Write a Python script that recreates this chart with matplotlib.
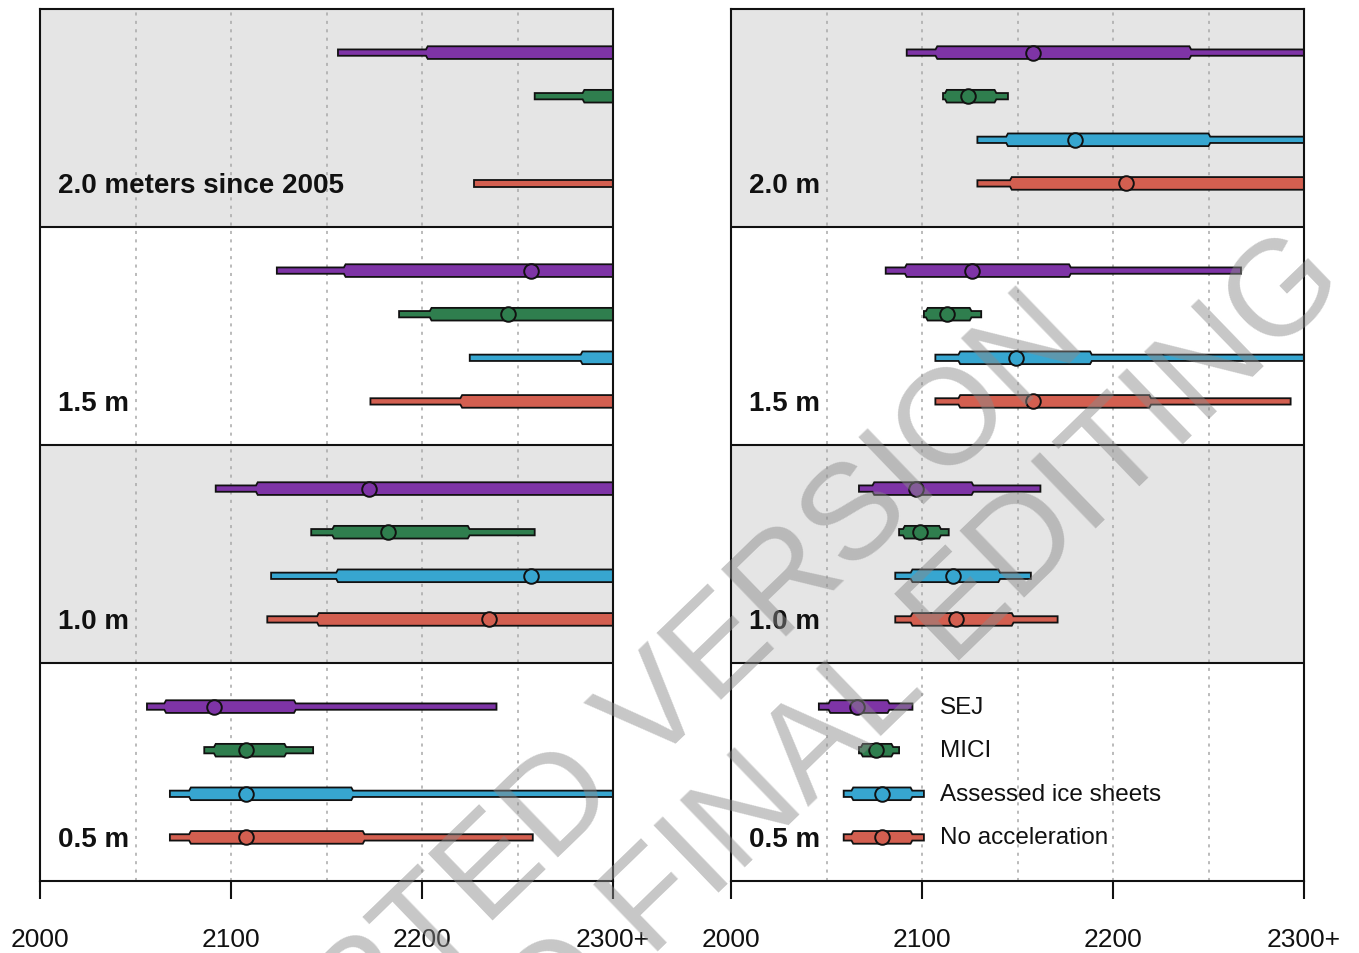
import numpy as np
import matplotlib
matplotlib.use("Agg")
import matplotlib.pyplot as plt
from matplotlib.patches import Polygon

plt.rcParams['font.family'] = ['Liberation Sans', 'DejaVu Sans']

INF = np.inf

# Sea-level thresholds (bottom to top) and panel labels
levels = ["0.5", "1.0", "1.5", "2.0"]
left_labels = ["0.5 m", "1.0 m", "1.5 m", "2.0 meters since 2005"]
right_labels = ["0.5 m", "1.0 m", "1.5 m", "2.0 m"]

series_names = ["SEJ", "MICI", "Assessed ice sheets", "No acceleration"]
series_colors = ["#7E34A6", "#2F7E4E", "#37A6D0", "#D35F50"]

# Year each threshold is reached: (very likely low, likely low, median,
# likely high, very likely high); INF = after 2300
left_sej = [[2056, 2066, 2091, 2133, 2239],
            [2092, 2114, 2172, INF, INF],
            [2124, 2160, 2257, INF, INF],
            [2156, 2203, INF, INF, INF]]
left_mici = [[2086, 2092, 2108, 2128, 2143],
             [2142, 2154, 2182, 2224, 2259],
             [2188, 2205, 2245, INF, INF],
             [2259, 2285, INF, INF, INF]]
left_assessed = [[2068, 2079, 2108, 2163, INF],
                 [2121, 2156, 2257, INF, INF],
                 [2225, 2284, INF, INF, INF],
                 [INF, INF, INF, INF, INF]]
left_noacc = [[2068, 2079, 2108, 2169, 2258],
              [2119, 2146, 2235, INF, INF],
              [2173, 2221, INF, INF, INF],
              [2227, INF, INF, INF, INF]]

right_sej = [[2046, 2052, 2066, 2082, 2095],
             [2067, 2075, 2097, 2126, 2162],
             [2081, 2092, 2126, 2177, 2267],
             [2092, 2108, 2158, 2240, INF]]
right_mici = [[2067, 2069, 2076, 2084, 2088],
              [2088, 2091, 2099, 2109, 2114],
              [2101, 2103, 2113, 2125, 2131],
              [2111, 2113, 2124, 2138, 2145]]
right_assessed = [[2059, 2064, 2079, 2094, 2101],
                  [2086, 2095, 2116, 2140, 2157],
                  [2107, 2120, 2149, 2188, INF],
                  [2129, 2145, 2180, 2250, INF]]
right_noacc = [[2059, 2064, 2079, 2094, 2101],
               [2086, 2095, 2118, 2147, 2171],
               [2107, 2120, 2158, 2219, 2293],
               [2129, 2147, 2207, INF, INF]]

xticks = [2000, 2100, 2200, 2300]
xticklabels = ["2000", "2100", "2200", "2300+"]
grid_years = [2050, 2100, 2150, 2200, 2250]

XMIN, XMAX = 2000, 2300
XCLIP = XMAX + 3
THIN = 0.0145
THICK = 0.029
TAPER = 0.9
ROW_OFFSETS = [0.8, 0.6, 0.4, 0.2]


def bar_shape(ax, y, vals, color):
    a, b, m, c, d = [min(v, XCLIP) for v in vals]
    if a >= XCLIP:
        return
    lower = [(a, y - THIN)]
    if b < XCLIP:
        lower += [(b - TAPER, y - THIN), (b, y - THICK)]
        if c < XCLIP:
            lower += [(c, y - THICK), (c + TAPER, y - THIN), (d, y - THIN)]
        else:
            lower += [(XCLIP, y - THICK)]
    else:
        lower += [(d, y - THIN)]
    upper = [(x, 2 * y - yy) for (x, yy) in reversed(lower)]
    poly = Polygon(lower + upper, closed=True, facecolor=color,
                   edgecolor="#111111", linewidth=1.3, joinstyle="miter",
                   zorder=3)
    ax.add_patch(poly)
    if m < XMAX:
        ax.plot([m], [y], marker="o", ms=10.5, mfc=color, mec="#111111",
                mew=1.4, zorder=4, clip_on=False)


def draw_panel(ax, data, labels):
    ax.set_xlim(XMIN, XMAX)
    ax.set_ylim(0, len(levels))
    for i in range(len(levels)):
        fc = "#E5E5E5" if i % 2 == 1 else "white"
        ax.axhspan(i, i + 1, facecolor=fc, zorder=0)
        if i > 0:
            ax.axhline(i, color="#111111", lw=1.5, zorder=5)
    for gx in grid_years:
        ax.axvline(gx, color="#a8a8a8", lw=1.1, ls=(0, (2, 3.5)), zorder=1)
    for s, (series, color) in enumerate(zip(data, series_colors)):
        for i, vals in enumerate(series):
            bar_shape(ax, i + ROW_OFFSETS[s], vals, color)
    for i, lab in enumerate(labels):
        ax.text(0.0314, (i + 0.16) / len(levels), lab, transform=ax.transAxes,
                fontsize=20, fontweight="bold", ha="left", va="baseline",
                color="#111111", zorder=6)
    ax.set_yticks([])
    ax.set_xticks(xticks)
    ax.set_xticklabels(xticklabels, fontsize=19, color="#111111")
    ax.tick_params(axis="x", direction="out", length=13, width=1.5, pad=20,
                   color="#111111")
    for sp in ax.spines.values():
        sp.set_linewidth(1.5)
        sp.set_color("#111111")
        sp.set_zorder(6)


fig = plt.figure(figsize=(13.59, 9.54), dpi=100)
ax_l = fig.add_axes([40 / 1359, 72 / 954, 573 / 1359, 872 / 954])
ax_r = fig.add_axes([731 / 1359, 72 / 954, 573 / 1359, 872 / 954])

draw_panel(ax_l, [left_sej, left_mici, left_assessed, left_noacc], left_labels)
draw_panel(ax_r, [right_sej, right_mici, right_assessed, right_noacc], right_labels)

# Series names beside the 0.5 m rows of the right panel
for s, name in enumerate(series_names):
    ax_r.text(0.365, (0 + ROW_OFFSETS[s]) / len(levels), name,
              transform=ax_r.transAxes, fontsize=17.5, ha="left",
              va="center", color="#111111", zorder=6)

# Draft watermark
fig.text(612 / 1359, 1 - 852 / 954,
         "ACCEPTED VERSION\nSUBJECT TO FINAL EDITING",
         rotation=44, rotation_mode="anchor", ha="center", va="center",
         multialignment="center", fontsize=98, color="#8a8a8a", alpha=0.48,
         linespacing=1.12, zorder=10)

fig.savefig("out.png", dpi=100)
